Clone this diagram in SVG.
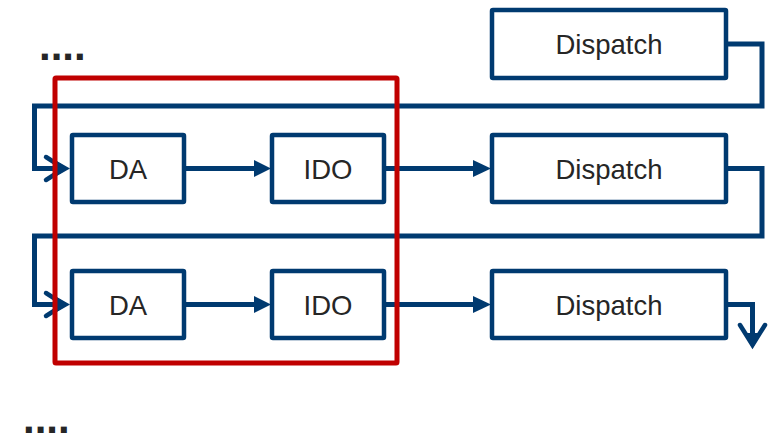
<svg xmlns="http://www.w3.org/2000/svg" width="770" height="438" viewBox="0 0 770 438">
<style>
.box{fill:#fff;stroke:#003a70;stroke-width:4.5}
.lbl{font-family:"Liberation Sans",Arial,sans-serif;font-size:27.5px;fill:#262626;text-anchor:middle}
.dots{font-family:"Liberation Sans",Arial,sans-serif;font-size:42px;font-weight:bold;fill:#262626}
.ln{fill:none;stroke:#003a70;stroke-width:5;stroke-linejoin:miter}
.chev{fill:none;stroke:#003a70;stroke-width:4.5;stroke-linecap:round;stroke-linejoin:miter}
.head{fill:#003a70}
</style>
<rect width="770" height="438" fill="#fff"/>
<g id="connectors">
  <path class="ln" d="M726,44 H762 V106 H34.5 V168.5 H58"/>
  <polyline class="chev" points="46,157 64,168.5 46,180"/>
  <polygon class="head" points="55,160 70,168.5 55,177"/>
  <path class="ln" d="M184,168.5 H256"/>
  <polygon class="head" points="254,160 271,168.5 254,177"/>
  <path class="ln" d="M384,168.5 H475"/>
  <polygon class="head" points="473,160 491,168.5 473,177"/>
  <path class="ln" d="M726,168.5 H762 V236 H34.5 V304.5 H58"/>
  <polyline class="chev" points="46,293 64,304.5 46,316"/>
  <polygon class="head" points="55,296 70,304.5 55,313"/>
  <path class="ln" d="M184,304.5 H256"/>
  <polygon class="head" points="254,296 271,304.5 254,313"/>
  <path class="ln" d="M384,304.5 H475"/>
  <polygon class="head" points="473,296 491,304.5 473,313"/>
  <path class="ln" d="M726,304.5 H752.5 V335"/>
  <polyline class="chev" points="740,325 752.5,345 765,325"/>
  <polygon class="head" points="744,333 752.5,348.5 761,333"/>
</g>
<g id="dispatch1"><rect class="box" x="492" y="10" width="234" height="68" rx="1"/><text class="lbl" x="609" y="54.3">Dispatch</text></g>
<g id="da1"><rect class="box" x="72" y="135" width="112" height="67" rx="1"/><text class="lbl" x="128" y="179.3">DA</text></g>
<g id="ido1"><rect class="box" x="272" y="135" width="112" height="67" rx="1"/><text class="lbl" x="328" y="179.3">IDO</text></g>
<g id="dispatch2"><rect class="box" x="492" y="135" width="234" height="67" rx="1"/><text class="lbl" x="609" y="179.3">Dispatch</text></g>
<g id="da2"><rect class="box" x="72" y="271" width="112" height="67" rx="1"/><text class="lbl" x="128" y="315">DA</text></g>
<g id="ido2"><rect class="box" x="272" y="271" width="112" height="67" rx="1"/><text class="lbl" x="328" y="315">IDO</text></g>
<g id="dispatch3"><rect class="box" x="492" y="271" width="234" height="67" rx="1"/><text class="lbl" x="609" y="315">Dispatch</text></g>
<g id="highlight"><rect x="55" y="78" width="342" height="285" fill="none" stroke="#c00000" stroke-width="5" rx="1"/></g>
<g id="dots-top"><text class="dots" x="39" y="59.7">....</text></g>
<g id="dots-bottom"><text class="dots" x="23" y="432.7">....</text></g>
</svg>
